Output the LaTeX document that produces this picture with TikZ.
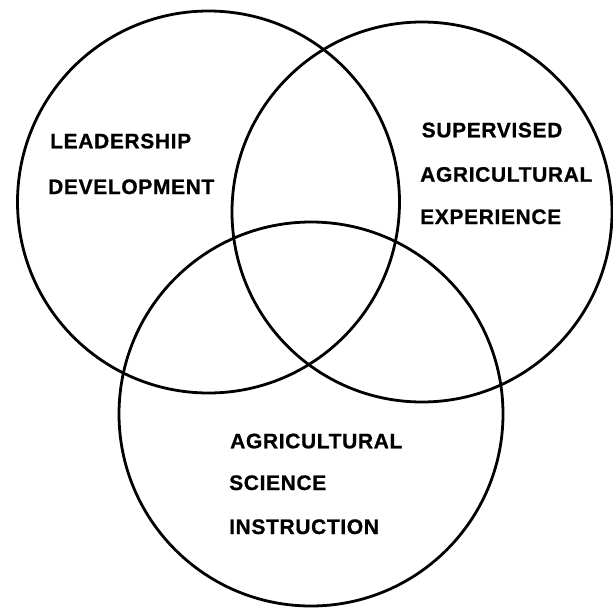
\documentclass[tikz,border=0pt]{standalone}
\usepackage{fontspec}
\setmainfont{Liberation Sans}[LetterSpace=3,BoldFeatures={FakeBold=0.8}]
\begin{document}
\begin{tikzpicture}[x=1pt,y=-1pt,
  ring/.style={draw=black,line width=2.8pt},
  lbl/.style={anchor=base west,inner sep=0pt,font=\fontsize{21}{25}\selectfont\bfseries}]
\useasboundingbox (0,0) rectangle (613,608);
\node[ring,circle,minimum size=382pt,inner sep=0pt] (lc) at (208.5,202) {};
\node[ring,circle,minimum size=380pt,inner sep=0pt] (rc) at (422,212) {};
\node[ring,circle,minimum size=384pt,inner sep=0pt] (bc) at (311,414) {};
\node[lbl] (l1) at (50,148.3) {LEADERSHIP};
\node[lbl] (l2) at (48,194) {DEVELOPMENT};
\node[lbl] (r1) at (421.5,137.3) {SUPERVISED};
\node[lbl] (r2) at (420,181.7) {AGRICULTURAL};
\node[lbl] (r3) at (420,224) {EXPERIENCE};
\node[lbl] (b1) at (230,448.3) {AGRICULTURAL};
\node[lbl] (b2) at (229,490) {SCIENCE};
\node[lbl] (b3) at (229,534) {INSTRUCTION};
\end{tikzpicture}
\end{document}
